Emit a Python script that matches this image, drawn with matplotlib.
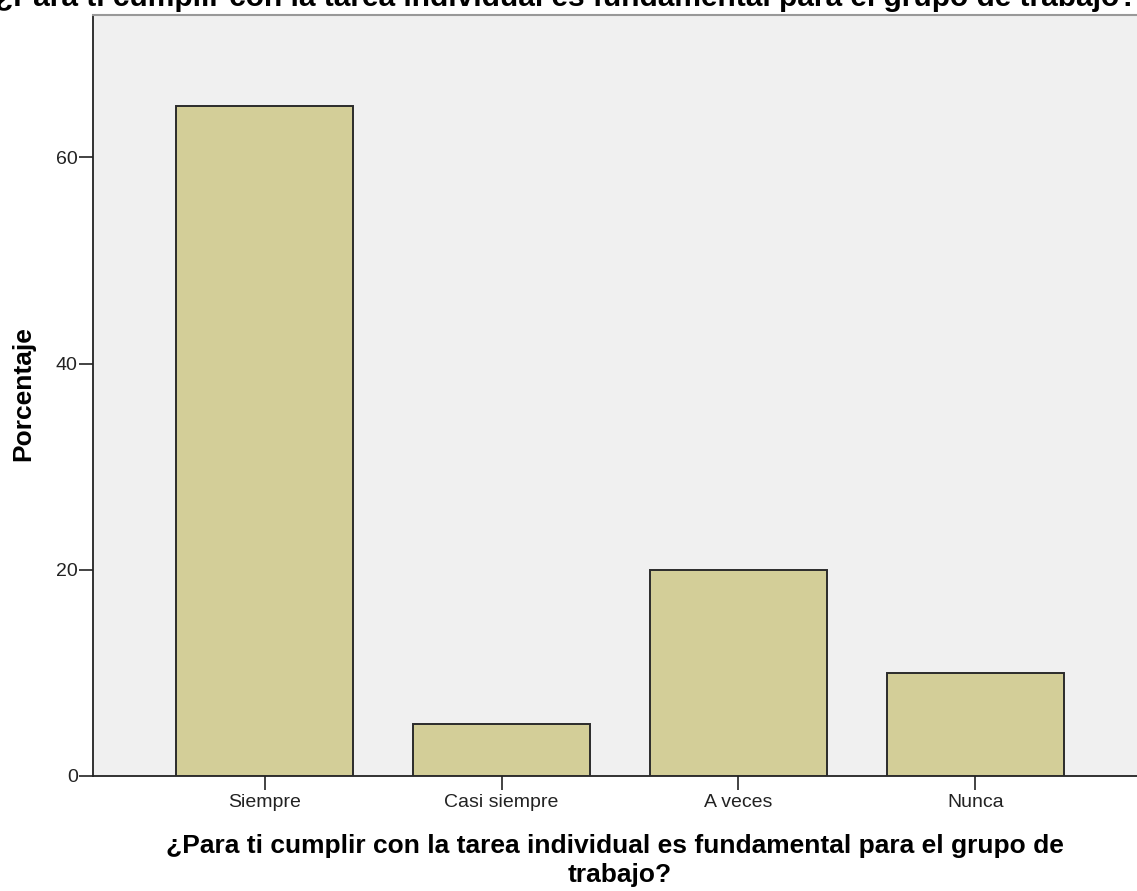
import matplotlib
matplotlib.use("Agg")
import matplotlib.pyplot as plt

# === Data ===
categorias = ["Siempre", "Casi siempre", "A veces", "Nunca"]
porcentajes = [65, 5, 20, 10]
titulo = "¿Para ti cumplir con la tarea individual es fundamental para el grupo de trabajo?"
etiqueta_x = ["¿Para ti cumplir con la tarea individual es fundamental para el grupo de",
              "trabajo?"]

plt.rcParams['font.family'] = ['Liberation Sans', 'DejaVu Sans']

W, H = 1137, 891
fig = plt.figure(figsize=(W / 100, H / 100), dpi=100)
ax = fig.add_axes([93 / W, (H - 776) / H, (1147 - 93) / W, (776 - 15) / H])
ax.set_facecolor("#F0F0F0")

x = range(len(categorias))
ax.bar(x, porcentajes, width=0.747, color="#D3CE98", edgecolor="#2b2b2b", linewidth=1.4, zorder=3)

ax.set_xlim(-0.724, 3.724)
ax.set_ylim(0, 73.8)
ax.set_xticks(list(x))
ax.set_xticklabels(categorias, fontsize=14, color="#222222")
ax.set_yticks([0, 20, 40, 60])
ax.tick_params(axis='y', length=10, width=1.2, labelsize=14, color="#222222",
               labelcolor="#222222", pad=1)
ax.tick_params(axis='x', length=10, width=1.2, pad=3, color="#222222")

ax.spines['right'].set_visible(False)
ax.spines['top'].set_color("#999999")
ax.spines['top'].set_linewidth(1.5)
for s in ['left', 'bottom']:
    ax.spines[s].set_color("#222222")
    ax.spines[s].set_linewidth(1.3)

# y label placed by hand to sit where the reference has it
fig.text(23 / W, 1 - 394 / H, "Porcentaje", rotation=90, ha='center', va='center',
         fontsize=19, fontweight='bold')

fig.text(615 / W, 1 - 853 / H, etiqueta_x[0], ha='center', va='baseline',
         fontsize=19, fontweight='bold')
fig.text(620 / W, 1 - 882 / H, etiqueta_x[1], ha='center', va='baseline',
         fontsize=19, fontweight='bold')
fig.text(566 / W, 1 - 6 / H, titulo, ha='center', va='baseline',
         fontsize=21.5, fontweight='bold')

fig.savefig("out.png", dpi=100)
